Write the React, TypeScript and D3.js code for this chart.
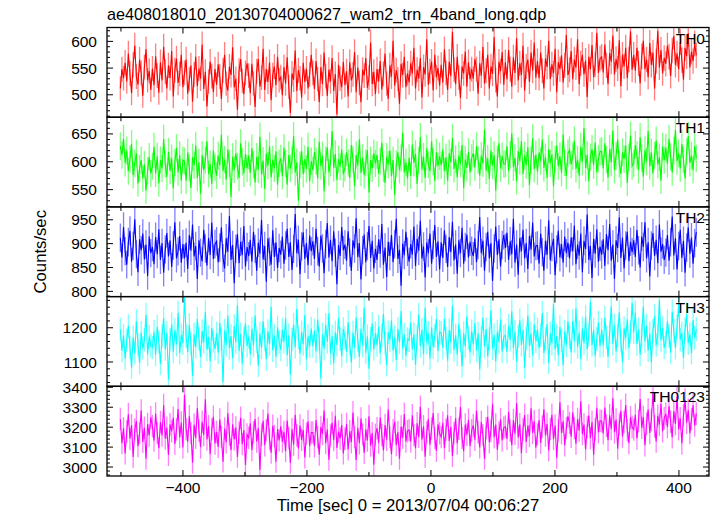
import React from "react";
import * as d3 from "d3";

const TITLE = "ae408018010_20130704000627_wam2_trn_4band_long.qdp";
const X_LABEL = "Time [sec] 0 = 2013/07/04 00:06:27";
const Y_LABEL = "Counts/sec";
const T_START = -501;
const T_END = 428;
const X_DOMAIN = [-522.5, 448.5];
const X_MAJOR = [-400, -200, 0, 200, 400];
const X_MINOR = [-500, -300, -100, 100, 300];

const TH0 = [
  512, 548, 531, 560, 525, 577, 540, 503, 556, 592, 534, 519, 566, 541, 498, 552, 585, 527, 545, 509,
  549, 518, 572, 536, 504, 561, 527, 590, 543, 512, 555, 531, 582, 497, 546, 568, 522, 539, 575, 514,
  541, 566, 502, 529, 555, 487, 538, 571, 516, 549, 530, 594, 511, 543, 478, 525, 562, 535, 505, 548,
  519, 557, 534, 492, 546, 575, 521, 508, 553, 537, 589, 514, 530, 472, 545, 567, 526, 501, 541, 559,
  536, 503, 558, 521, 477, 544, 567, 515, 532, 586, 509, 548, 524, 561, 490, 537, 553, 518, 571, 527,
  533, 499, 552, 521, 570, 515, 466, 540, 528, 583, 507, 546, 531, 495, 560, 524, 549, 512, 538, 575,
  541, 511, 563, 529, 486, 552, 520, 579, 535, 498, 547, 525, 569, 507, 539, 463, 556, 530, 514, 562,
  518, 544, 497, 561, 527, 538, 580, 505, 551, 522, 486, 547, 536, 569, 513, 532, 598, 520, 543, 501,
  548, 525, 563, 510, 539, 577, 521, 492, 555, 534, 601, 517, 546, 529, 483, 558, 537, 571, 514, 540,
  523, 559, 540, 588, 512, 547, 530, 569, 495, 552, 538, 604, 519, 544, 562, 508, 575, 533, 550, 517,
  556, 523, 585, 541, 509, 562, 535, 618, 547, 520, 571, 532, 494, 553, 540, 581, 515, 561, 529, 548,
  530, 567, 548, 502, 559, 536, 590, 521, 545, 575, 512, 553, 539, 608, 527, 497, 562, 544, 580, 519,
  561, 529, 584, 548, 515, 570, 541, 606, 527, 559, 537, 592, 508, 553, 566, 524, 579, 545, 598, 532,
  563, 531, 579, 545, 512, 568, 552, 601, 529, 557, 540, 586, 505, 561, 548, 574, 523, 555, 612, 537,
  547, 582, 529, 566, 551, 604, 520, 559, 575, 538, 564, 496, 571, 548, 593, 533, 557, 616, 541, 568,
  571, 542, 594, 555, 520, 578, 562, 611, 538, 567, 549, 602, 516, 575, 553, 588, 531, 566, 619, 547,
  575, 545, 588, 559, 521, 572, 601, 548, 566, 533, 597, 556, 579, 512, 563, 620, 551, 584, 540, 569,
  558, 592, 571, 535, 583, 610, 556, 577, 548, 599, 565, 528, 588, 572, 615, 551, 581, 563, 596, 574,
];

const TH1 = [
  628, 612, 641, 598, 620, 583, 605, 632, 576, 597, 615, 561, 588, 603, 570, 595, 548, 584, 609, 579,
  592, 627, 579, 610, 561, 603, 588, 641, 596, 573, 618, 584, 606, 552, 599, 625, 581, 612, 566, 603,
  601, 566, 617, 589, 553, 608, 594, 629, 571, 599, 542, 612, 585, 603, 637, 578, 596, 560, 620, 590,
  575, 611, 594, 649, 583, 604, 568, 622, 597, 537, 609, 586, 615, 592, 571, 633, 600, 579, 614, 588,
  611, 580, 624, 595, 563, 609, 586, 645, 577, 602, 551, 615, 593, 628, 572, 604, 588, 619, 559, 597,
  606, 574, 625, 597, 559, 612, 588, 603, 646, 581, 599, 530, 594, 619, 578, 605, 587, 627, 565, 601,
  585, 618, 601, 570, 636, 592, 611, 547, 603, 626, 581, 598, 655, 589, 614, 567, 605, 591, 622, 578,
  589, 617, 598, 571, 630, 604, 556, 612, 593, 640, 580, 607, 576, 598, 621, 545, 603, 588, 615, 597,
  612, 579, 601, 634, 588, 562, 609, 595, 620, 574, 603, 541, 596, 617, 585, 607, 652, 581, 599, 570,
  607, 575, 631, 598, 614, 560, 602, 644, 586, 609, 571, 624, 595, 583, 637, 600, 566, 617, 592, 610,
  594, 622, 583, 608, 566, 615, 599, 643, 587, 605, 572, 611, 596, 630, 553, 604, 589, 618, 581, 607,
  615, 590, 628, 603, 575, 611, 597, 658, 584, 606, 569, 620, 593, 612, 548, 605, 633, 588, 610, 596,
  596, 628, 583, 612, 651, 590, 607, 565, 619, 601, 637, 578, 611, 594, 626, 558, 603, 642, 587, 613,
  582, 617, 601, 640, 589, 608, 571, 623, 597, 613, 556, 604, 629, 592, 610, 580, 649, 599, 574, 615,
  621, 595, 610, 638, 587, 604, 575, 627, 600, 661, 589, 612, 565, 608, 623, 594, 635, 581, 606, 618,
  619, 588, 633, 604, 572, 623, 599, 656, 585, 611, 640, 596, 578, 617, 605, 629, 562, 608, 647, 592,
  597, 630, 612, 585, 644, 606, 573, 621, 600, 655, 592, 617, 579, 611, 638, 595, 608, 566, 627, 603,
  625, 596, 641, 609, 581, 620, 657, 601, 615, 588, 632, 604, 570, 618, 646, 598, 611, 585, 628, 606,
];

const TH2 = [
  912, 871, 935, 884, 856, 903, 927, 862, 895, 951, 878, 840, 909, 886, 921, 867, 898, 832, 915, 880,
  893, 857, 914, 878, 930, 866, 901, 839, 888, 922, 873, 907, 851, 896, 945, 869, 884, 916, 860, 899,
  869, 902, 847, 918, 885, 940, 873, 895, 826, 907, 881, 863, 929, 890, 854, 912, 876, 944, 868, 899,
  905, 861, 892, 934, 870, 848, 911, 883, 958, 866, 897, 817, 889, 920, 859, 904, 876, 937, 852, 893,
  874, 908, 862, 925, 889, 843, 902, 879, 950, 867, 895, 820, 911, 883, 856, 928, 872, 903, 849, 891,
  877, 915, 858, 896, 931, 872, 903, 845, 889, 962, 880, 908, 836, 894, 924, 868, 901, 855, 917, 884,
  905, 868, 931, 884, 852, 917, 890, 838, 899, 943, 871, 908, 863, 926, 881, 815, 897, 874, 935, 886,
  898, 864, 926, 881, 843, 907, 890, 953, 872, 901, 825, 886, 919, 861, 895, 937, 870, 906, 848, 889,
  866, 909, 879, 941, 856, 892, 830, 904, 874, 918, 861, 899, 952, 868, 887, 812, 900, 876, 925, 883,
  862, 899, 877, 936, 853, 910, 885, 948, 869, 894, 829, 903, 880, 921, 858, 897, 939, 872, 905, 846,
  903, 870, 928, 889, 851, 914, 882, 946, 865, 898, 837, 907, 880, 933, 858, 893, 919, 871, 904, 885,
  874, 911, 861, 897, 956, 880, 906, 843, 893, 925, 869, 901, 822, 890, 936, 876, 909, 852, 897, 918,
  891, 923, 866, 905, 878, 952, 860, 898, 835, 912, 884, 929, 869, 901, 847, 916, 888, 944, 873, 895,
  896, 858, 921, 882, 843, 906, 877, 949, 865, 893, 910, 834, 888, 927, 871, 899, 860, 915, 880, 902,
  869, 913, 884, 938, 857, 898, 875, 921, 840, 906, 889, 961, 866, 895, 828, 910, 879, 930, 862, 894,
  877, 909, 853, 920, 886, 941, 864, 898, 826, 907, 891, 955, 870, 913, 848, 896, 925, 863, 904, 882,
  907, 872, 929, 886, 850, 915, 893, 945, 869, 903, 831, 896, 922, 874, 908, 859, 940, 883, 899, 866,
  881, 918, 864, 903, 957, 875, 911, 846, 895, 929, 870, 906, 839, 892, 934, 879, 913, 858, 901, 924,
];

const TH3 = [
  1195, 1132, 1177, 1110, 1164, 1205, 1143, 1083, 1172, 1126, 1219, 1151, 1097, 1186, 1140, 1165, 1238, 1122, 1174, 1148,
  1142, 1188, 1121, 1203, 1159, 1094, 1176, 1228, 1137, 1185, 1049, 1166, 1210, 1130, 1193, 1151, 1244, 1126, 1179, 1155,
  1290, 1175, 1129, 1208, 1153, 1060, 1181, 1144, 1226, 1168, 1115, 1190, 1157, 1247, 1136, 1173, 1102, 1199, 1161, 1138,
  1183, 1127, 1214, 1166, 1041, 1192, 1150, 1235, 1140, 1176, 1111, 1205, 1158, 1266, 1132, 1181, 1095, 1170, 1213, 1147,
  1174, 1123, 1197, 1148, 1236, 1160, 1089, 1183, 1141, 1219, 1166, 1108, 1190, 1152, 1261, 1134, 1177, 1115, 1201, 1158,
  1136, 1194, 1159, 1228, 1120, 1178, 1063, 1166, 1209, 1143, 1255, 1171, 1124, 1187, 1152, 1237, 1108, 1175, 1146, 1198,
  1146, 1192, 1131, 1224, 1167, 1052, 1181, 1139, 1208, 1159, 1242, 1125, 1175, 1096, 1187, 1150, 1229, 1168, 1117, 1196,
  1171, 1130, 1216, 1154, 1098, 1186, 1142, 1230, 1163, 1115, 1197, 1148, 1259, 1127, 1175, 1080, 1168, 1212, 1137, 1184,
  1149, 1203, 1126, 1178, 1240, 1155, 1091, 1187, 1164, 1221, 1133, 1172, 1106, 1196, 1158, 1249, 1140, 1180, 1118, 1167,
  1163, 1215, 1138, 1181, 1092, 1172, 1238, 1147, 1194, 1123, 1258, 1156, 1185, 1110, 1201, 1143, 1177, 1226, 1132, 1188,
  1185, 1141, 1226, 1169, 1104, 1193, 1157, 1264, 1135, 1178, 1121, 1210, 1162, 1087, 1184, 1146, 1233, 1170, 1128, 1190,
  1152, 1214, 1134, 1183, 1078, 1171, 1229, 1145, 1196, 1117, 1167, 1251, 1139, 1179, 1102, 1188, 1158, 1224, 1131, 1174,
  1178, 1129, 1206, 1164, 1248, 1140, 1189, 1101, 1175, 1222, 1150, 1193, 1084, 1169, 1236, 1146, 1184, 1119, 1210, 1160,
  1195, 1140, 1178, 1243, 1126, 1167, 1211, 1098, 1183, 1154, 1270, 1137, 1176, 1120, 1202, 1163, 1091, 1189, 1148, 1218,
  1172, 1128, 1220, 1161, 1257, 1143, 1186, 1109, 1198, 1155, 1232, 1137, 1179, 1276, 1150, 1193, 1118, 1168, 1215, 1146,
  1194, 1148, 1229, 1172, 1115, 1186, 1263, 1153, 1207, 1131, 1178, 1245, 1162, 1099, 1198, 1170, 1225, 1140, 1189, 1273,
  1187, 1244, 1152, 1195, 1121, 1178, 1262, 1160, 1206, 1134, 1183, 1098, 1191, 1235, 1149, 1176, 1281, 1163, 1200, 1142,
  1158, 1219, 1177, 1128, 1247, 1190, 1141, 1203, 1268, 1165, 1184, 1112, 1196, 1239, 1155, 1181, 1126, 1222, 1170, 1196,
];

const TH0123 = [
  3240, 3120, 3195, 3068, 3178, 3265, 3142, 3210, 3050, 3188, 3231, 3105, 3170, 3283, 3126, 3197, 3042, 3215, 3158, 3249,
  3205, 3132, 3268, 3171, 3094, 3226, 3158, 3310, 3143, 3197, 3061, 3214, 3179, 3247, 3116, 3188, 3291, 3150, 3223, 3098,
  3362, 3190, 3127, 3254, 3170, 3021, 3212, 3146, 3296, 3183, 3099, 3227, 3161, 3340, 3138, 3205, 3064, 3189, 3252, 3118,
  3176, 3101, 3238, 3150, 3027, 3193, 3124, 3270, 3162, 3085, 3214, 3139, 3198, 3051, 3172, 3247, 3115, 3186, 3010, 3163,
  3147, 3219, 3085, 3174, 3241, 3128, 3196, 2985, 3163, 3232, 3109, 3185, 3268, 3140, 3072, 3207, 3155, 3026, 3191, 3134,
  3204, 3127, 3176, 3079, 3233, 3145, 3021, 3190, 3112, 3262, 3158, 3093, 3208, 3136, 3185, 3048, 3167, 3229, 3104, 3173,
  3173, 3104, 3236, 3149, 3062, 3201, 3166, 3284, 3120, 3188, 3037, 3159, 3222, 3135, 3257, 3096, 3178, 3143, 3211, 3068,
  3142, 3216, 3088, 3179, 3125, 3274, 3150, 3036, 3197, 3119, 3243, 3164, 3071, 3188, 3133, 3255, 3107, 3170, 3012, 3161,
  3195, 3121, 3248, 3160, 3083, 3211, 3137, 3289, 3152, 3064, 3184, 3228, 3110, 3175, 3042, 3203, 3146, 3266, 3128, 3180,
  3186, 3128, 3259, 3160, 3095, 3219, 3151, 3302, 3137, 3204, 3052, 3175, 3240, 3112, 3193, 3271, 3146, 3081, 3214, 3169,
  3150, 3222, 3094, 3187, 3260, 3131, 3201, 3056, 3170, 3244, 3118, 3192, 3301, 3146, 3079, 3213, 3162, 3237, 3105, 3184,
  3209, 3137, 3283, 3175, 3098, 3226, 3160, 3041, 3195, 3252, 3124, 3181, 3317, 3149, 3213, 3087, 3172, 3240, 3133, 3198,
  3203, 3141, 3276, 3182, 3110, 3235, 3167, 3320, 3148, 3214, 3069, 3190, 3261, 3126, 3208, 3155, 3295, 3172, 3229, 3097,
  3164, 3236, 3121, 3202, 3290, 3158, 3217, 3083, 3191, 3262, 3140, 3208, 3047, 3183, 3325, 3171, 3229, 3109, 3196, 3254,
  3221, 3152, 3274, 3196, 3117, 3240, 3183, 3330, 3166, 3213, 3088, 3201, 3258, 3145, 3226, 3062, 3190, 3297, 3174, 3232,
  3230, 3169, 3298, 3207, 3135, 3259, 3191, 3345, 3174, 3238, 3092, 3216, 3282, 3153, 3226, 3311, 3185, 3120, 3249, 3201,
  3188, 3262, 3143, 3230, 3341, 3197, 3250, 3109, 3218, 3289, 3171, 3236, 3375, 3204, 3128, 3257, 3212, 3318, 3180, 3244,
  3267, 3201, 3305, 3228, 3149, 3281, 3216, 3352, 3190, 3244, 3118, 3259, 3337, 3222, 3286, 3170, 3241, 3310, 3208, 3268,
];

const PANEL_NAMES = ["TH0", "TH1", "TH2", "TH3", "TH0123"];
const PANEL_SERIES = [TH0, TH1, TH2, TH3, TH0123];
const PANEL_DOMAINS = [
  [458, 626],
  [519, 680],
  [789, 977],
  [1029, 1291],
  [2955, 3405],
];
const PANEL_MAJOR = [50, 50, 50, 100, 100];
const PANEL_MINOR = [10, 10, 10, 20, 20];
const PANEL_COLORS = ["#ff0000", "#00ff00", "#0000ff", "#00ffff", "#ff00ff"];

const W = 717;
const H = 516;
const LEFT = 107;
const RIGHT = 709;
const TOP = 27.5;
const BOTTOM = 476;
const FONT = "'Liberation Sans', Arial, Helvetica, sans-serif";

export default function App() {
  const x = d3.scaleLinear().domain(X_DOMAIN).range([LEFT, RIGHT]);
  const ph = (BOTTOM - TOP) / PANEL_NAMES.length;

  const panels = PANEL_NAMES.map((name, pi) => {
    const y0 = TOP + pi * ph;
    const y1 = y0 + ph;
    const dom = PANEL_DOMAINS[pi];
    const y = d3.scaleLinear().domain(dom).range([y1, y0]);
    const vals = PANEL_SERIES[pi];
    const n = vals.length;
    const times = vals.map((_, i) => T_START + (i * (T_END - T_START)) / (n - 1));
    const color = PANEL_COLORS[pi];
    const line = d3
      .line<number>()
      .x((_, i) => x(times[i]))
      .y((d) => y(d));
    const major = PANEL_MAJOR[pi];
    const minor = PANEL_MINOR[pi];
    const minorTicks = d3
      .range(Math.ceil(dom[0] / minor) * minor, dom[1] + 0.001, minor)
      .filter((v) => Math.abs(v / major - Math.round(v / major)) > 1e-6);
    const majorTicks = d3.range(Math.ceil(dom[0] / major) * major, dom[1] + 0.001, major);
    const clipId = `clip${pi}`;
    return (
      <g key={name}>
        <clipPath id={clipId}>
          <rect x={LEFT} y={y0} width={RIGHT - LEFT} height={ph} />
        </clipPath>
        <g clipPath={`url(#${clipId})`}>
          {vals.map((v, i) => {
            const e = Math.sqrt(v);
            return (
              <line
                key={i}
                x1={x(times[i])}
                x2={x(times[i])}
                y1={y(v - e)}
                y2={y(v + e)}
                stroke={color}
                strokeOpacity={0.5}
                strokeWidth={1.3}
              />
            );
          })}
          <path d={line(vals) || ""} fill="none" stroke={color} strokeWidth={1.1} />
        </g>
        {majorTicks.map((v) => (
          <g key={`M${v}`}>
            <line x1={LEFT} x2={LEFT + 6} y1={y(v)} y2={y(v)} stroke="#000" strokeWidth={1} />
            <line x1={RIGHT} x2={RIGHT - 6} y1={y(v)} y2={y(v)} stroke="#000" strokeWidth={1} />
            <text
              x={97}
              y={y(v)}
              dy="0.36em"
              textAnchor="end"
              fontSize={15.5}
              fontFamily={FONT}
              fill="#000"
            >
              {v}
            </text>
          </g>
        ))}
        {minorTicks.map((v) => (
          <g key={`m${v}`}>
            <line x1={LEFT} x2={LEFT + 3} y1={y(v)} y2={y(v)} stroke="#000" strokeWidth={1} />
            <line x1={RIGHT} x2={RIGHT - 3} y1={y(v)} y2={y(v)} stroke="#000" strokeWidth={1} />
          </g>
        ))}
        {X_MAJOR.map((t) => (
          <g key={`xm${t}`}>
            <line x1={x(t)} x2={x(t)} y1={y0} y2={y0 + 6} stroke="#000" strokeWidth={1} />
            <line x1={x(t)} x2={x(t)} y1={y1} y2={y1 - 6} stroke="#000" strokeWidth={1} />
          </g>
        ))}
        {X_MINOR.map((t) => (
          <g key={`xn${t}`}>
            <line x1={x(t)} x2={x(t)} y1={y0} y2={y0 + 4} stroke="#000" strokeWidth={1} />
            <line x1={x(t)} x2={x(t)} y1={y1} y2={y1 - 4} stroke="#000" strokeWidth={1} />
          </g>
        ))}
        <rect
          x={LEFT}
          y={y0}
          width={RIGHT - LEFT}
          height={ph}
          fill="none"
          stroke="#000"
          strokeWidth={1.3}
        />
        <text
          x={705}
          y={y0 + 16}
          textAnchor="end"
          fontSize={15.5}
          fontFamily={FONT}
          fill="#000"
        >
          {name}
        </text>
      </g>
    );
  });

  return (
    <svg
      width={W}
      height={H}
      style={{ position: "absolute", left: 0, top: 0, background: "#fff" }}
    >
      <rect x={0} y={0} width={W} height={H} fill="#fff" />
      <text x={107} y={20} fontSize={16.2} fontFamily={FONT} fill="#000">
        {TITLE}
      </text>
      {panels}
      {X_MAJOR.map((t) => (
        <text
          key={`xl${t}`}
          x={x(t)}
          y={493}
          textAnchor="middle"
          fontSize={15.5}
          fontFamily={FONT}
          fill="#000"
        >
          {t < 0 ? `\u2212${Math.abs(t)}` : `${t}`}
        </text>
      ))}
      <text
        x={408}
        y={511}
        textAnchor="middle"
        fontSize={16.7}
        fontFamily={FONT}
        fill="#000"
      >
        {X_LABEL}
      </text>
      <text
        transform={`translate(46, ${(TOP + BOTTOM) / 2}) rotate(-90)`}
        textAnchor="middle"
        fontSize={16.7}
        fontFamily={FONT}
        fill="#000"
      >
        {Y_LABEL}
      </text>
    </svg>
  );
}
